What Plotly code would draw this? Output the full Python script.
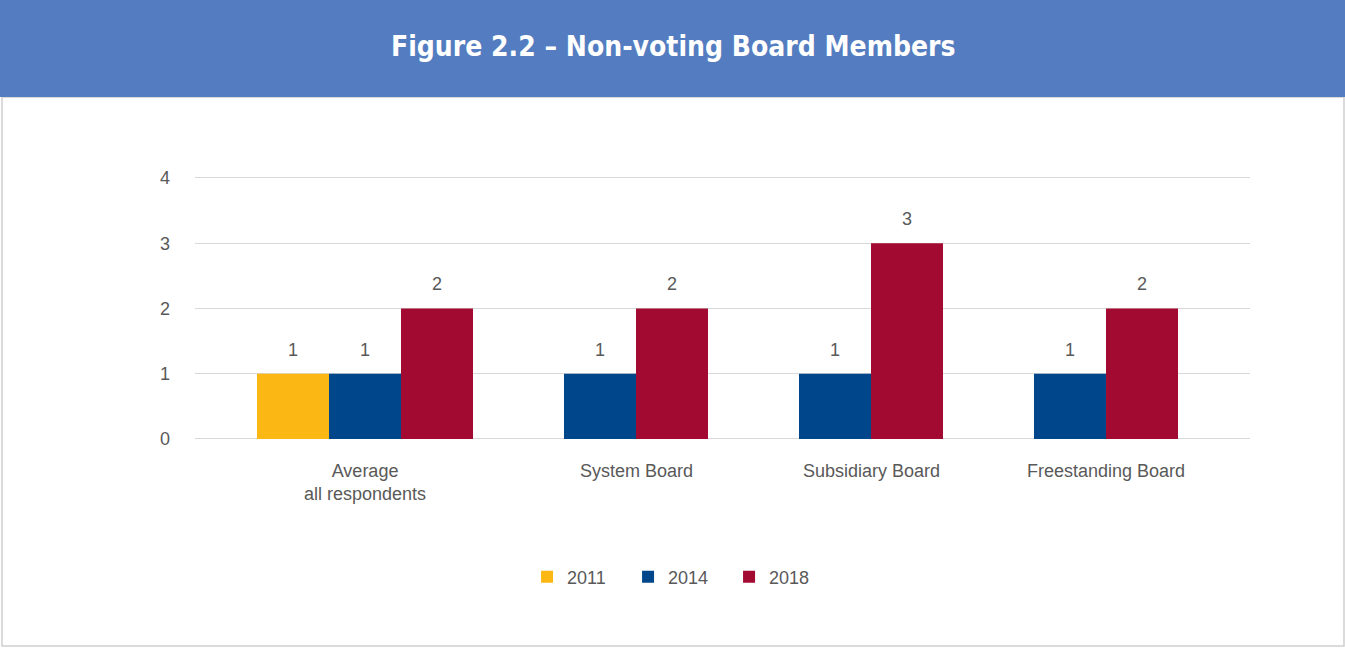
import plotly.graph_objects as go

# Average number of non-voting board members, by board type and survey year
categories = ["Average<br>all respondents", "System Board", "Subsidiary Board", "Freestanding Board"]
years = ["2011", "2014", "2018"]
values_2011 = [1, None, None, None]
values_2014 = [1, 1, 1, 1]
values_2018 = [2, 2, 3, 2]
y_ticks = [0, 1, 2, 3, 4]

series = [values_2011, values_2014, values_2018]
colors = ["#FBB714", "#00468B", "#A30A32"]

W, H = 1345, 648
BAR_W = 0.3064                      # bar width in category units
OFFSETS = [-2 * BAR_W, -BAR_W, 0.0]  # left edge of each year's bar relative to category centre

Y_MAX = 4.05                         # a little headroom so the top gridline is kept
PX_PER_UNIT = 65.25
Y0_PX = 439                          # pixel row of the value-axis baseline

LABEL_FONT = dict(family="Liberation Sans, Arial, sans-serif", size=18, color="#595959")

fig = go.Figure()
for name, vals, col, off in zip(years, series, colors, OFFSETS):
    fig.add_trace(go.Bar(
        name=name, x=list(range(len(categories))), y=vals,
        width=BAR_W, offset=off, marker=dict(color=col, line=dict(width=0)),
        hoverinfo="y",
    ))

annotations = []
# value labels above bars
for vals, off in zip(series, OFFSETS):
    for i, v in enumerate(vals):
        if v is None:
            continue
        annotations.append(dict(
            x=i + off + BAR_W / 2, y=v, xref="x", yref="y", text=str(v),
            showarrow=False, yshift=24, font=LABEL_FONT,
        ))

# category labels centred under the bars present in each group
for i, cat in enumerate(categories):
    present = [off for vals, off in zip(series, OFFSETS) if vals[i] is not None]
    centre = i + (min(present) + max(present) + BAR_W) / 2
    annotations.append(dict(
        x=centre, y=1 - 459 / H, xref="x", yref="paper", text=cat,
        showarrow=False, yanchor="top", align="center", font=LABEL_FONT,
    ))

# figure heading
annotations.append(dict(
    x=0.5, y=1 - 47 / H, xref="paper", yref="paper", xanchor="center", yanchor="middle",
    text="<b>Figure 2.2 – Non-voting Board Members</b>", showarrow=False,
    font=dict(family="Liberation Sans Narrow, DejaVu Sans Condensed, Arial Narrow, sans-serif",
              size=28, color="white"),
))

shapes = [
    # panel border
    dict(type="rect", xref="paper", yref="paper", x0=2 / W, x1=1344 / W, y0=1 - 646 / H, y1=1 - 97 / H,
         line=dict(color="#D0D0D0", width=1.5), fillcolor="white", layer="below"),
    # heading band
    dict(type="rect", xref="paper", yref="paper", x0=0, x1=1, y0=1 - 97 / H, y1=1,
         line=dict(width=0), fillcolor="#537DC0", layer="below"),
]

top_px = Y0_PX - Y_MAX * PX_PER_UNIT

fig.update_layout(
    width=W, height=H,
    margin=dict(l=0, r=0, t=0, b=0, autoexpand=False),
    paper_bgcolor="white", plot_bgcolor="rgba(0,0,0,0)",
    barmode="overlay",
    showlegend=True,
    legend=dict(orientation="h", x=0.5045, xanchor="center", y=1 - 577 / H, yanchor="middle",
                font=LABEL_FONT, entrywidth=56, entrywidthmode="pixels",
                bgcolor="rgba(0,0,0,0)"),
    xaxis=dict(domain=[195 / W, 1250 / W], range=[-0.8766, 3.6128], automargin=False,
               showticklabels=False, showgrid=False, zeroline=False, fixedrange=True),
    yaxis=dict(domain=[1 - Y0_PX / H, 1 - top_px / H], range=[0, Y_MAX], tickvals=y_ticks,
               automargin=False,
               showgrid=True, gridcolor="#D9D9D9", gridwidth=1,
               zeroline=True, zerolinecolor="#D9D9D9", zerolinewidth=1,
               tickfont=LABEL_FONT, ticklabelstandoff=24, fixedrange=True),
    annotations=annotations,
    shapes=shapes,
    hovermode=False,
)

fig.write_html("out.html")
